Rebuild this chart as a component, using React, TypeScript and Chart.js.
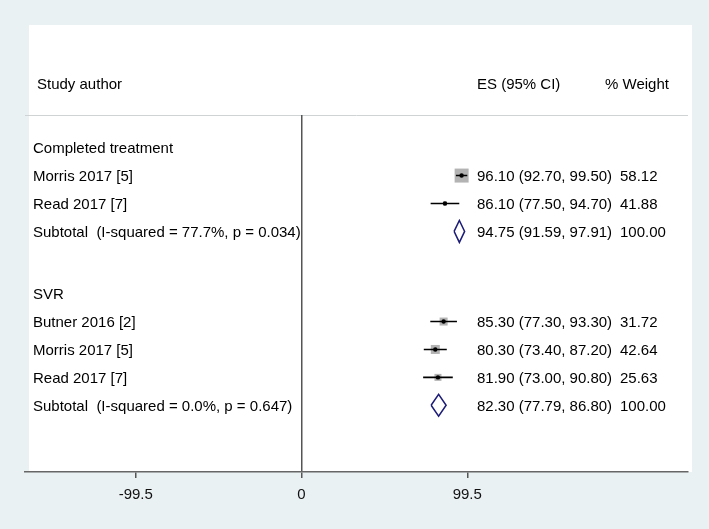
import React, { useEffect, useRef } from "react";
import { Chart, registerables } from "chart.js";

Chart.register(...registerables);

// ---------- data ----------
const groupNames = ["Completed treatment", "SVR"];
const studyLabels = ["Morris 2017 [5]", "Read 2017 [7]", "Butner 2016 [2]", "Morris 2017 [5]", "Read 2017 [7]"];
const studyGroup = [0, 0, 1, 1, 1];
const studyES = [96.1, 86.1, 85.3, 80.3, 81.9];
const studyLo = [92.7, 77.5, 77.3, 73.4, 73.0];
const studyHi = [99.5, 94.7, 93.3, 87.2, 90.8];
const studyWeight = [58.12, 41.88, 31.72, 42.64, 25.63];
const subES = [94.75, 82.3];
const subLo = [91.59, 77.79];
const subHi = [97.91, 86.8];
const subI2 = [77.7, 0.0];
const subP = [0.034, 0.647];
const xTicks = [-99.5, 0, 99.5];

// ---------- style ----------
const BOX_SIDES = [14, 4, 8, 9, 7];
const FONT = "'Liberation Sans', Arial, Helvetica, sans-serif";
const FONT_SIZE = 15;
const ROW_GAP = 2.23;
const DIAMOND_HALF = 0.394;
const TEXT_DY = 1.5;

// row layout computed from the groups
const headerRow: number[] = [];
const studyRow: number[] = [];
const subRow: number[] = [];
(() => {
  let r = 0;
  groupNames.forEach((_, g) => {
    headerRow[g] = r;
    r += 1;
    studyLabels.forEach((_, i) => {
      if (studyGroup[i] === g) {
        studyRow[i] = r;
        r += 1;
      }
    });
    subRow[g] = r;
    r += ROW_GAP;
  });
})();
const TITLE_ROW = -2.32;

export default function App() {
  const ref = useRef<HTMLCanvasElement | null>(null);

  useEffect(() => {
    const canvas = ref.current;
    if (!canvas) return;

    const ciData: any[] = [];
    studyLabels.forEach((_, i) => {
      ciData.push({ x: studyLo[i], y: studyRow[i] });
      ciData.push({ x: studyHi[i], y: studyRow[i] });
      ciData.push({ x: studyHi[i], y: null });
    });
    const diaData: any[] = [];
    subES.forEach((es, g) => {
      const r = subRow[g];
      diaData.push({ x: subLo[g], y: r });
      diaData.push({ x: es, y: r - DIAMOND_HALF });
      diaData.push({ x: subHi[g], y: r });
      diaData.push({ x: es, y: r + DIAMOND_HALF });
      diaData.push({ x: subLo[g], y: r });
      diaData.push({ x: subLo[g], y: null });
    });
    const esData = studyES.map((v, i) => ({ x: v, y: studyRow[i] }));

    const bgPlugin = {
      id: "bg",
      beforeDraw(chart: any) {
        const { ctx, chartArea } = chart;
        ctx.save();
        ctx.fillStyle = "#eaf1f3";
        ctx.fillRect(0, 0, chart.width, chart.height);
        ctx.fillStyle = "#ffffff";
        ctx.fillRect(chartArea.left + 4, chartArea.top - 90, chartArea.right - chartArea.left, chartArea.bottom - chartArea.top + 90);
        ctx.strokeStyle = "#cfd3d4";
        ctx.lineWidth = 1;
        ctx.beginPath();
        ctx.moveTo(chartArea.left, chartArea.top + 0.5);
        ctx.lineTo(chartArea.right, chartArea.top + 0.5);
        ctx.stroke();
        ctx.restore();
      },
    };

    const textPlugin = {
      id: "texts",
      afterDraw(chart: any) {
        const { ctx, chartArea } = chart;
        const ys = chart.scales.y;
        const yAt = (v: number) => ys.getPixelForValue(v) + TEXT_DY;
        const L = chartArea.left;
        const labelX = L + 8;
        const esX = L + 452;
        const wtX = L + 595;
        ctx.save();
        ctx.font = `${FONT_SIZE}px ${FONT}`;
        ctx.fillStyle = "#000";
        ctx.textBaseline = "middle";
        ctx.textAlign = "left";
        const ty = yAt(TITLE_ROW);
        ctx.fillText("Study author", L + 12, ty);
        ctx.fillText("ES (95% CI)", esX, ty);
        ctx.fillText("% Weight", L + 580, ty);
        groupNames.forEach((name, g) => {
          ctx.fillText(name, labelX, yAt(headerRow[g]));
          const sy = yAt(subRow[g]);
          ctx.fillText(`Subtotal  (I-squared = ${subI2[g].toFixed(1)}%, p = ${subP[g].toFixed(3)})`, labelX, sy);
          ctx.fillText(`${subES[g].toFixed(2)} (${subLo[g].toFixed(2)}, ${subHi[g].toFixed(2)})`, esX, sy);
          ctx.fillText("100.00", wtX, sy);
        });
        studyLabels.forEach((name, i) => {
          const y = yAt(studyRow[i]);
          ctx.fillText(name, labelX, y);
          ctx.fillText(`${studyES[i].toFixed(2)} (${studyLo[i].toFixed(2)}, ${studyHi[i].toFixed(2)})`, esX, y);
          ctx.fillText(studyWeight[i].toFixed(2), wtX, y);
        });
        ctx.restore();
      },
    };

    const chart = new Chart(canvas, {
      type: "scatter",
      data: {
        datasets: [
          {
            label: "ES",
            data: esData,
            pointRadius: 2.2,
            pointBackgroundColor: "#000",
            pointBorderWidth: 0,
            order: 0,
          },
          {
            label: "CI",
            data: ciData,
            showLine: true,
            spanGaps: false,
            borderColor: "#000",
            borderWidth: 1.6,
            pointRadius: 0,
            order: 1,
          },
          {
            label: "Weight box",
            data: esData,
            pointStyle: "rect",
            pointRadius: BOX_SIDES.map((s) => s / (2 * Math.SQRT1_2)),
            pointBackgroundColor: "#b3b3b3",
            pointBorderWidth: 0,
            order: 2,
          },
          {
            label: "Subtotal",
            data: diaData,
            showLine: true,
            spanGaps: false,
            borderColor: "#1c1c78",
            borderWidth: 1.5,
            borderJoinStyle: "miter",
            pointRadius: 0,
            order: 3,
          },
        ] as any,
      },
      options: {
        animation: false,
        responsive: false,
        events: [],
        layout: { padding: { left: 25, right: 21, top: 115, bottom: 17 } },
        plugins: { legend: { display: false }, tooltip: { enabled: false } },
        scales: {
          x: {
            type: "linear",
            min: -166,
            max: 232,
            afterBuildTicks: (s: any) => {
              s.ticks = xTicks.map((v) => ({ value: v }));
            },
            ticks: {
              autoSkip: false,
              maxRotation: 0,
              padding: 8,
              color: "#111",
              font: { family: FONT, size: FONT_SIZE },
              callback: (v: any) => String(v),
            },
            grid: {
              drawOnChartArea: true,
              color: (c: any) => (c.tick && c.tick.value === 0 ? "#555" : "rgba(0,0,0,0)"),
              lineWidth: 1.5,
              tickLength: 6,
              tickColor: "#555",
              tickWidth: 1.5,
            },
            border: { display: true, color: "#666", width: 1.5 },
          },
          y: {
            type: "linear",
            display: false,
            reverse: true,
            min: -1.17,
            max: 11.62,
          },
        },
      } as any,
      plugins: [bgPlugin, textPlugin],
    });

    return () => chart.destroy();
  }, []);

  return (
    <div style={{ position: "fixed", left: 0, top: 0, width: 709, height: 529 }}>
      <canvas ref={ref} width={709} height={529} style={{ display: "block", width: 709, height: 529 }} />
    </div>
  );
}
